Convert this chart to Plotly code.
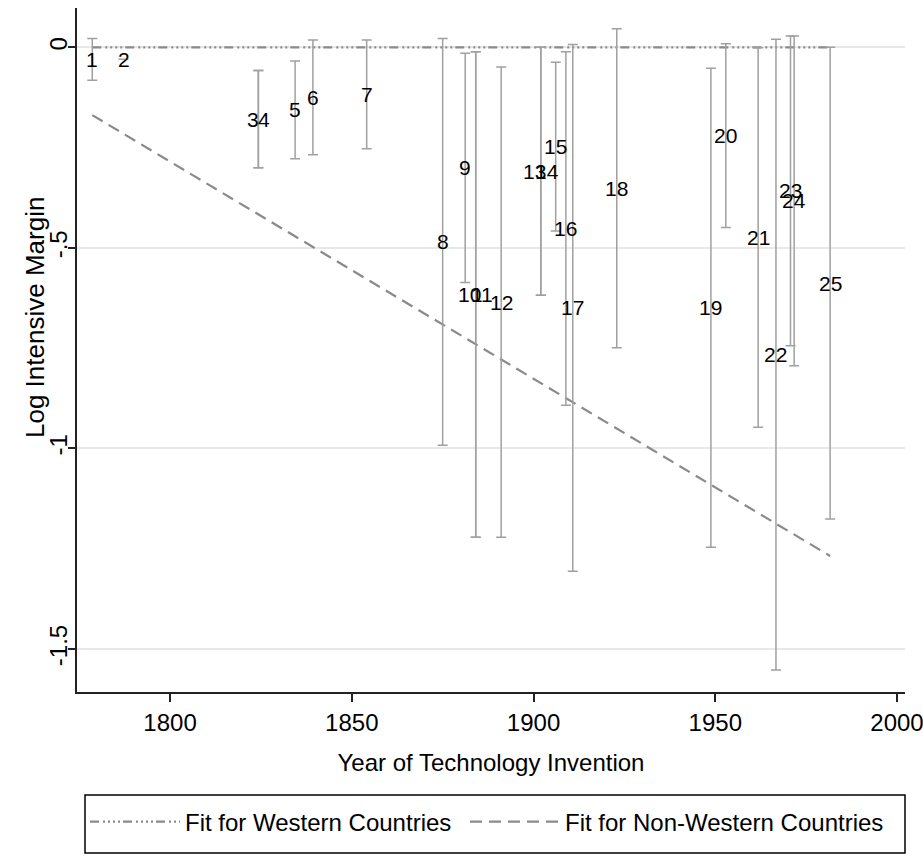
import plotly.graph_objects as go

# ---------------- data ----------------
ids = [str(i) for i in range(1, 26)]
years = [1778.6, 1787.2, 1824.3, 1824.3, 1834.4, 1839.3, 1854.1, 1875.0, 1881.2,
         1884.1, 1884.1, 1891.1, 1902.0, 1902.0, 1906.1, 1908.9, 1910.8, 1922.9,
         1948.8, 1952.9, 1961.8, 1966.7, 1970.7, 1971.7, 1981.6]
estimates = [-0.030, -0.030, -0.179, -0.179, -0.156, -0.125, -0.117, -0.485, -0.300,
             -0.616, -0.616, -0.635, -0.309, -0.309, -0.247, -0.451, -0.649, -0.352,
             -0.649, -0.220, -0.474, -0.766, -0.358, -0.383, -0.588]
ci_low = [-0.082, None, -0.300, -0.300, -0.278, -0.268, -0.253, -0.992, -0.586,
          -1.221, -1.221, -1.221, -0.618, -0.618, -0.458, -0.892, -1.306, -0.749,
          -1.246, -0.449, -0.947, -1.552, -0.744, -0.794, -1.176]
ci_high = [0.022, None, -0.058, -0.058, -0.034, 0.018, 0.018, 0.022, -0.015,
           -0.011, -0.011, -0.049, 0.000, 0.000, -0.037, -0.011, 0.007, 0.046,
           -0.052, 0.009, -0.001, 0.020, 0.028, 0.028, 0.000]

fit_years = [1778.6, 1981.6]
west_fit = [0.0, 0.0]
nonwest_fit = [-0.169, -1.268]

x_tickvals = [1800, 1850, 1900, 1950, 2000]
y_tickvals = [-1.5, -1, -0.5, 0]
y_ticktext = ["-1.5", "-1", "-.5", "0"]

# ---------------- styles ----------------
FONT = "Liberation Sans, Arial, sans-serif"
BAR_COLOR = "#a0a0a0"
FIT_COLOR = "#8a8a8a"
LABEL_SIZE = 21
half_digit = 0.556 * LABEL_SIZE / 2
label_shift = {"3": -half_digit, "4": half_digit, "10": -half_digit,
               "11": half_digit, "13": -half_digit, "14": half_digit}

err_plus = [None if h is None else h - e for h, e in zip(ci_high, estimates)]
err_minus = [None if l is None else e - l for l, e in zip(ci_low, estimates)]

fig = go.Figure()

fig.add_trace(go.Scatter(
    x=fit_years, y=west_fit, mode="lines", name="Fit for Western Countries",
    line=dict(color=FIT_COLOR, width=2.2,
              dash="9px,4px,2px,3px,2px,3px,2px,3px,2px,3px"),
    legendwidth=275, hoverinfo="skip"))
fig.add_trace(go.Scatter(
    x=fit_years, y=nonwest_fit, mode="lines", name="Fit for Non-Western Countries",
    line=dict(color=FIT_COLOR, width=2.2, dash="12px,7px"),
    legendwidth=330, hoverinfo="skip"))

fig.add_trace(go.Scatter(
    x=years, y=estimates, mode="markers", showlegend=False,
    marker=dict(size=1, color="rgba(0,0,0,0)"),
    error_y=dict(type="data", symmetric=False, array=err_plus, arrayminus=err_minus,
                 color=BAR_COLOR, thickness=1.5, width=5),
    hoverinfo="skip"))

for lab, xv, yv in zip(ids, years, estimates):
    fig.add_annotation(x=xv, y=yv, xref="x", yref="y", text=lab, showarrow=False,
                       xanchor="center", yanchor="middle",
                       xshift=label_shift.get(lab, 0),
                       font=dict(family=FONT, size=LABEL_SIZE, color="black"))

W, H = 923, 861
L, R, T, B = 77, 18, 8, 169
PW, PH = W - L - R, H - T - B


def px_x(p):
    return (p - L) / PW


def px_y(p):
    return (H - B - p) / PH


# y-axis title
fig.add_annotation(x=px_x(35), y=px_y(318), xref="paper", yref="paper",
                   text="Log Intensive Margin", textangle=-90, showarrow=False,
                   xanchor="center", yanchor="middle",
                   font=dict(family=FONT, size=26, color="black"))

# legend frame
fig.add_shape(type="rect", xref="paper", yref="paper",
              x0=px_x(85), x1=px_x(905), y0=px_y(795), y1=px_y(853),
              line=dict(color="black", width=1.5), fillcolor="rgba(0,0,0,0)")

fig.update_layout(
    width=W, height=H,
    margin=dict(l=L, r=R, t=T, b=B, autoexpand=False),
    paper_bgcolor="white", plot_bgcolor="white",
    showlegend=True,
    legend=dict(orientation="h", x=px_x(85), xanchor="left",
                y=px_y(822), yanchor="middle",
                borderwidth=0, bgcolor="rgba(0,0,0,0)",
                font=dict(family=FONT, size=24, color="black"),
                itemwidth=90),
    xaxis=dict(range=[1774.4, 2002.2], tickvals=x_tickvals, showgrid=False,
               zeroline=False, showline=True, linecolor="#222", linewidth=2,
               ticks="outside", ticklen=8, tickcolor="#222", tickwidth=1.5,
               ticklabeloverflow="allow",
               tickfont=dict(family=FONT, size=24, color="black"),
               title=dict(text="Year of Technology Invention",
                          font=dict(family=FONT, size=24, color="black"),
                          standoff=19),
               automargin=False),
    yaxis=dict(range=[-1.607, 0.098], tickvals=y_tickvals, ticktext=y_ticktext,
               showgrid=True, gridcolor="#e8e8e8", gridwidth=2,
               zeroline=False, showline=True, linecolor="#222", linewidth=2,
               ticks="outside", ticklen=7, tickcolor="#222", tickwidth=1.5,
               tickangle=-90, ticklabeloverflow="allow", ticklabelstandoff=-9,
               tickfont=dict(family=FONT, size=24, color="black"),
               automargin=False),
)

fig.write_html("out.html")
